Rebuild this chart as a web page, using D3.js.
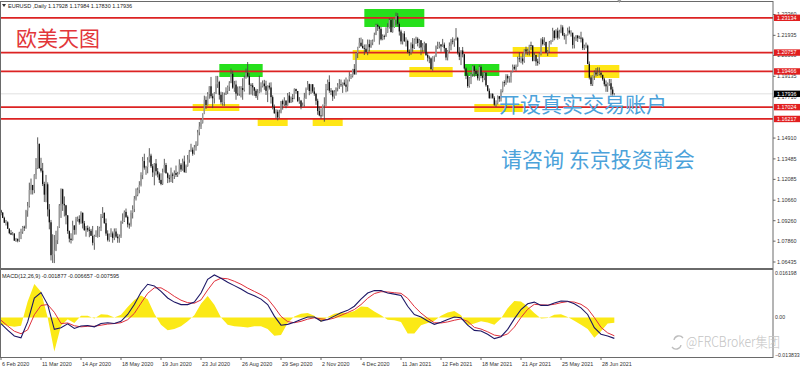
<!DOCTYPE html>
<html>
<head>
<meta charset="utf-8">
<script src="https://cdn.jsdelivr.net/npm/d3@7.9.0/dist/d3.min.js"></script>
<style>
  html, body { margin: 0; padding: 0; background: #fff; }
  svg { display: block; font-family: "Liberation Sans", Arial, sans-serif; }
</style>
</head>
<body>
<svg id="chart" width="800" height="369"></svg>
<script>
// EURUSD daily, 6 Feb 2020 .. 8 Jul 2021 (one value per trading day)
const firstOpen = 1.0997;

const highs = [
  // Feb 2020
  1.1001,1.0985,1.0953,1.0931,1.0922,1.0874,1.0862,1.0849,1.0840,1.0808,1.0805,1.0850,1.0871,1.0890,1.0892,1.1000,1.1054,
  // Mar 2020
  1.1186,1.1214,1.1171,1.1244,1.1354,1.1496,1.1454,1.1356,1.1321,1.1192,1.1239,1.1188,1.1040,1.0931,1.0833,1.0828,1.0857,1.0887,1.1040,1.1147,1.1145,1.1092,
  // Apr 2020
  1.1034,1.0965,1.0859,1.0840,1.0926,1.0895,1.0952,1.0955,1.0963,1.0990,1.0982,1.0924,1.0890,1.0893,1.0885,1.0870,1.0890,1.0830,1.0860,1.0890,1.0885,1.0972,
  // May 2020
  1.1019,1.0983,1.0941,1.0860,1.0838,1.0874,1.0852,1.0873,1.0874,1.0837,1.0832,1.0926,1.0976,1.0996,1.1009,1.0962,1.0912,1.0997,1.1031,1.1095,1.1147,
  // Jun 2020
  1.1153,1.1196,1.1257,1.1362,1.1384,1.1301,1.1360,1.1422,1.1384,1.1313,1.1320,1.1348,1.1286,1.1256,1.1250,1.1282,1.1349,1.1321,1.1256,1.1240,1.1289,1.1255,
  // Jul 2020
  1.1270,1.1303,1.1260,1.1346,1.1320,1.1350,1.1371,1.1310,1.1375,1.1410,1.1452,1.1427,1.1444,1.1469,1.1547,1.1601,1.1624,1.1660,1.1781,1.1776,1.1805,1.1845,1.1909,
  // Aug 2020
  1.1796,1.1805,1.1916,1.1916,1.1883,1.1808,1.1805,1.1802,1.1838,1.1850,1.1880,1.1966,1.1951,1.1882,1.1884,1.1844,1.1845,1.1846,1.1900,1.1917,1.1966,
  // Sep 2020
  1.2011,1.1935,1.1866,1.1867,1.1840,1.1828,1.1826,1.1917,1.1872,1.1885,1.1889,1.1883,1.1851,1.1870,1.1872,1.1783,1.1720,1.1688,1.1685,1.1685,1.1745,1.1754,
  // Oct 2020
  1.1770,1.1749,1.1799,1.1806,1.1775,1.1792,1.1831,1.1829,1.1813,1.1771,1.1752,1.1734,1.1800,1.1837,1.1881,1.1863,1.1859,1.1860,1.1838,1.1800,1.1760,1.1707,
  // Nov 2020
  1.1695,1.1720,1.1770,1.1861,1.1891,1.1920,1.1833,1.1820,1.1819,1.1838,1.1867,1.1894,1.1891,1.1870,1.1891,1.1905,1.1889,1.1942,1.1930,1.1964,1.1997,
  // Dec 2020
  1.2077,1.2115,1.2176,1.2178,1.2167,1.2131,1.2132,1.2165,1.2164,1.2162,1.2165,1.2212,1.2273,1.2272,1.2257,1.2250,1.2200,1.2198,1.2249,1.2276,1.2310,1.2310,
  // Jan 2021
  1.2309,1.2300,1.2349,1.2345,1.2283,1.2232,1.2206,1.2222,1.2180,1.2164,1.2097,1.2145,1.2175,1.2172,1.2184,1.2180,1.2169,1.2160,1.2141,1.2150,
  // Feb 2021
  1.2140,1.2076,1.2054,1.2043,1.2050,1.2055,1.2124,1.2150,1.2149,1.2132,1.2169,1.2144,1.2108,1.2093,1.2145,1.2169,1.2180,1.2170,1.2243,1.2183,
  // Mar 2021
  1.2113,1.2092,1.2114,1.2068,1.1976,1.1935,1.1908,1.1935,1.1989,1.1990,1.1965,1.1952,1.1989,1.1990,1.1941,1.1942,1.1944,1.1853,1.1830,1.1797,1.1798,1.1777,1.1749,
  // Apr 2021
  1.1782,1.1779,1.1825,1.1877,1.1886,1.1928,1.1927,1.1914,1.1946,1.1994,1.1993,1.1994,1.2048,1.2079,1.2049,1.2071,1.2098,1.2116,1.2102,1.2129,1.2150,1.2125,
  // May 2021
  1.2077,1.2061,1.2033,1.2071,1.2173,1.2182,1.2180,1.2150,1.2093,1.2155,1.2162,1.2245,1.2230,1.2235,1.2246,1.2232,1.2266,1.2262,1.2210,1.2200,1.2246,
  // Jun 2021
  1.2254,1.2228,1.2197,1.2184,1.2195,1.2196,1.2191,1.2218,1.2180,1.2130,1.2144,1.2130,1.2015,1.1920,1.1920,1.1954,1.1970,1.1975,1.1974,1.1950,1.1922,1.1904,
  // Jul 2021
  1.1885,1.1871,1.1895,1.1895,1.1842,1.17984
];

const lows = [
  1.0963,1.0944,1.0911,1.0893,1.0870,1.0834,1.0828,1.0826,1.0787,1.0781,1.0778,1.0781,1.0800,1.0836,1.0856,1.0871,1.0953,
  1.1016,1.1105,1.1105,1.1114,1.1210,1.1280,1.1282,1.1256,1.1163,1.1054,1.1052,1.0955,1.0867,1.0654,1.0637,1.0636,1.0718,1.0766,1.0877,1.0945,1.0993,1.0955,
  1.0901,1.0836,1.0778,1.0770,1.0790,1.0830,1.0831,1.0920,1.0899,1.0905,1.0873,1.0856,1.0817,1.0850,1.0813,1.0825,1.0757,1.0727,1.0815,1.0810,1.0815,1.0855,
  1.0944,1.0905,1.0823,1.0784,1.0782,1.0814,1.0775,1.0793,1.0808,1.0775,1.0775,1.0808,1.0905,1.0917,1.0944,1.0880,1.0871,1.0885,1.0941,1.0985,1.1064,
  1.1093,1.1113,1.1160,1.1210,1.1275,1.1240,1.1250,1.1324,1.1287,1.1225,1.1168,1.1235,1.1222,1.1184,1.1168,1.1170,1.1256,1.1249,1.1183,1.1187,1.1190,1.1184,
  1.1211,1.1225,1.1225,1.1244,1.1260,1.1268,1.1255,1.1252,1.1295,1.1322,1.1398,1.1370,1.1378,1.1405,1.1438,1.1510,1.1553,1.1590,1.1655,1.1690,1.1714,1.1760,1.1763,
  1.1696,1.1727,1.1792,1.1834,1.1754,1.1721,1.1712,1.1711,1.1786,1.1792,1.1813,1.1866,1.1828,1.1807,1.1753,1.1779,1.1780,1.1769,1.1753,1.1809,1.1896,
  1.1905,1.1788,1.1789,1.1782,1.1780,1.1765,1.1752,1.1798,1.1803,1.1837,1.1821,1.1786,1.1737,1.1823,1.1727,1.1687,1.1657,1.1627,1.1612,1.1626,1.1660,1.1685,
  1.1710,1.1695,1.1712,1.1730,1.1731,1.1736,1.1757,1.1794,1.1737,1.1725,1.1688,1.1702,1.1706,1.1758,1.1822,1.1784,1.1793,1.1800,1.1780,1.1718,1.1650,1.1640,
  1.1622,1.1640,1.1603,1.1710,1.1818,1.1800,1.1785,1.1745,1.1760,1.1781,1.1810,1.1827,1.1841,1.1800,1.1848,1.1804,1.1810,1.1878,1.1895,1.1905,1.1925,
  1.1925,1.2038,1.2108,1.2114,1.2103,1.2059,1.2080,1.2058,1.2082,1.2108,1.2126,1.2151,1.2195,1.2224,1.2130,1.2158,1.2160,1.2165,1.2183,1.2210,1.2240,1.2213,
  1.2211,1.2244,1.2264,1.2254,1.2192,1.2132,1.2131,1.2148,1.2117,1.2070,1.2054,1.2060,1.2081,1.2100,1.2135,1.2118,1.2106,1.2058,1.2080,1.2080,
  1.2052,1.2015,1.2003,1.1959,1.1952,1.2013,1.2045,1.2100,1.2104,1.2081,1.2115,1.2080,1.2023,1.2022,1.2078,1.2091,1.2132,1.2115,1.2158,1.2062,
  1.2024,1.1990,1.2043,1.1960,1.1894,1.1835,1.1836,1.1860,1.1910,1.1910,1.1914,1.1885,1.1883,1.1900,1.1873,1.1887,1.1842,1.1810,1.1761,1.1762,1.1760,1.1711,1.1704,
  1.1721,1.1739,1.1741,1.1803,1.1843,1.1855,1.1870,1.1870,1.1870,1.1940,1.1956,1.1951,1.1979,1.2010,1.2003,1.1994,1.2006,1.2062,1.2058,1.2056,1.2094,1.2015,
  1.2017,1.1985,1.1986,1.1996,1.2056,1.2124,1.2125,1.2072,1.2052,1.2073,1.2131,1.2150,1.2160,1.2173,1.2163,1.2171,1.2208,1.2191,1.2164,1.2133,1.2193,
  1.2200,1.2185,1.2103,1.2104,1.2154,1.2148,1.2169,1.2145,1.2093,1.2093,1.2105,1.1996,1.1892,1.1847,1.1847,1.1888,1.1912,1.1916,1.1919,1.1906,1.1883,1.1845,
  1.1807,1.1807,1.1848,1.1782,1.1781,1.17830
];

const closes = [
  1.0981,1.0945,1.0912,1.0915,1.0871,1.0841,1.0831,1.0838,1.0790,1.0800,1.0789,1.0846,1.0850,1.0884,1.0880,1.0994,1.1026,
  1.1136,1.1170,1.1135,1.1240,1.1285,1.1451,1.1285,1.1268,1.1177,1.1104,1.1175,1.1003,1.0915,1.0690,1.0695,1.0723,1.0793,1.0883,1.1030,1.1141,1.1041,1.1031,
  1.0962,1.0855,1.0803,1.0794,1.0893,1.0863,1.0938,1.0938,1.0914,1.0980,1.0908,1.0862,1.0875,1.0864,1.0857,1.0822,1.0775,1.0820,1.0822,1.0823,1.0876,1.0955,
  1.0979,1.0909,1.0838,1.0795,1.0833,1.0839,1.0808,1.0852,1.0817,1.0806,1.0819,1.0917,1.0924,1.0986,1.0952,1.0901,1.0900,1.0979,1.1006,1.1076,1.1103,
  1.1136,1.1170,1.1238,1.1334,1.1289,1.1293,1.1342,1.1371,1.1298,1.1256,1.1317,1.1264,1.1243,1.1205,1.1177,1.1258,1.1307,1.1250,1.1219,1.1218,1.1242,1.1233,
  1.1252,1.1239,1.1245,1.1309,1.1276,1.1331,1.1258,1.1300,1.1344,1.1398,1.1411,1.1384,1.1428,1.1445,1.1530,1.1570,1.1595,1.1655,1.1752,1.1718,1.1792,1.1845,1.1777,
  1.1763,1.1800,1.1859,1.1875,1.1787,1.1736,1.1737,1.1786,1.1813,1.1842,1.1869,1.1930,1.1836,1.1857,1.1795,1.1794,1.1832,1.1833,1.1820,1.1903,1.1938,
  1.1914,1.1855,1.1851,1.1838,1.1815,1.1778,1.1802,1.1814,1.1845,1.1864,1.1846,1.1814,1.1849,1.1837,1.1771,1.1705,1.1661,1.1671,1.1633,1.1665,1.1744,1.1722,
  1.1747,1.1715,1.1782,1.1734,1.1764,1.1758,1.1826,1.1813,1.1745,1.1747,1.1706,1.1718,1.1766,1.1826,1.1860,1.1813,1.1859,1.1810,1.1793,1.1746,1.1676,1.1646,
  1.1640,1.1717,1.1723,1.1825,1.1874,1.1815,1.1814,1.1775,1.1808,1.1833,1.1851,1.1858,1.1853,1.1870,1.1857,1.1842,1.1891,1.1915,1.1915,1.1963,1.1927,
  1.2072,1.2113,1.2143,1.2121,1.2106,1.2102,1.2080,1.2133,1.2112,1.2144,1.2153,1.2197,1.2264,1.2254,1.2238,1.2166,1.2188,1.2187,1.2213,1.2246,1.2298,1.2216,
  1.2247,1.2300,1.2325,1.2272,1.2220,1.2152,1.2206,1.2154,1.2155,1.2080,1.2076,1.2132,1.2106,1.2164,1.2170,1.2141,1.2160,1.2111,1.2124,1.2138,
  1.2059,1.2041,1.2036,1.1962,1.2046,1.2051,1.2118,1.2119,1.2132,1.2118,1.2130,1.2106,1.2042,1.2089,1.2120,1.2156,1.2151,1.2166,1.2175,1.2075,
  1.2047,1.2090,1.2064,1.1967,1.1917,1.1847,1.1902,1.1928,1.1982,1.1950,1.1930,1.1900,1.1978,1.1917,1.1903,1.1937,1.1852,1.1814,1.1763,1.1793,1.1766,1.1719,1.1728,
  1.1777,1.1760,1.1812,1.1874,1.1871,1.1915,1.1899,1.1910,1.1946,1.1978,1.1965,1.1983,1.2036,1.2034,1.2035,1.2016,1.2097,1.2084,1.2088,1.2126,1.2124,1.2019,
  1.2059,1.2015,1.2005,1.2067,1.2165,1.2134,1.2148,1.2076,1.2083,1.2145,1.2153,1.2224,1.2175,1.2225,1.2178,1.2215,1.2248,1.2193,1.2192,1.2193,1.2226,
  1.2212,1.2212,1.2128,1.2166,1.2191,1.2174,1.2178,1.2171,1.2106,1.2120,1.2123,1.1998,1.1905,1.1860,1.1917,1.1939,1.1926,1.1931,1.1937,1.1924,1.1893,1.1859,
  1.1845,1.1865,1.1866,1.1823,1.1793,1.17936
];

// MACD(12,26,9) read every 4th bar
const macdStep = 4;
const macdMain = [
  -0.0022,-0.0046,-0.0067,-0.0074,-0.0016,0.0071,0.0091,0.0047,-0.0043,-0.0037,
  -0.0023,-0.0040,-0.0031,-0.0029,-0.0034,-0.0022,-0.0019,-0.0022,-0.0014,0.0011,
  0.0047,0.0092,0.0121,0.0115,0.0095,0.0071,0.0056,0.0047,0.0047,0.0056,
  0.0089,0.0139,0.0155,0.0143,0.0128,0.0116,0.0104,0.0089,0.0079,0.0067,
  0.0047,0.0005,-0.0028,-0.0025,-0.0017,-0.0007,0.0002,0.0002,-0.0013,-0.0007,
  0.0005,0.0017,0.0026,0.0041,0.0067,0.0089,0.0098,0.0098,0.0089,0.0085,
  0.0080,0.0041,0.0011,0.0002,-0.0013,-0.0025,-0.0017,-0.0007,0.0002,-0.0001,
  -0.0028,-0.0047,-0.0049,-0.0061,-0.0077,-0.0070,-0.0043,-0.0005,0.0029,0.0050,
  0.0056,0.0044,0.0044,0.0053,0.0060,0.0059,0.0050,0.0035,0.0011,-0.0037,
  -0.0061,-0.0067,-0.007595
];
const macdSignal = [
  -0.0010,-0.0031,-0.0050,-0.0059,-0.0045,0.0010,0.0044,0.0047,0.0019,-0.0022,
  -0.0020,-0.0030,-0.0034,-0.0032,-0.0032,-0.0028,-0.0024,-0.0022,-0.0019,-0.0008,
  0.0015,0.0052,0.0088,0.0108,0.0108,0.0094,0.0077,0.0063,0.0054,0.0052,
  0.0064,0.0100,0.0132,0.0143,0.0141,0.0132,0.0121,0.0107,0.0095,0.0083,
  0.0068,0.0038,0.0004,-0.0015,-0.0019,-0.0014,-0.0006,-0.0001,-0.0005,-0.0008,
  -0.0002,0.0008,0.0018,0.0029,0.0047,0.0070,0.0087,0.0094,0.0093,0.0090,
  0.0088,0.0070,0.0040,0.0016,-0.0003,-0.0019,-0.0020,-0.0016,-0.0010,-0.0005,
  -0.0014,-0.0036,-0.0042,-0.0052,-0.0064,-0.0068,-0.0060,-0.0035,0.0000,0.0030,
  0.0048,0.0046,0.0045,0.0048,0.0054,0.0058,0.0056,0.0048,0.0032,0.0000,
  -0.0036,-0.0056,-0.006657
];
const macdHist = [
  -0.0024,-0.0030,-0.0034,-0.0030,0.0058,0.0122,0.0094,0.0000,-0.0124,-0.0030,
  -0.0006,-0.0020,0.0006,0.0006,-0.0004,0.0012,0.0010,0.0000,0.0010,0.0038,
  0.0064,0.0080,0.0066,0.0014,-0.0026,-0.0046,-0.0042,-0.0032,-0.0014,0.0008,
  0.0050,0.0078,0.0046,0.0000,-0.0026,-0.0032,-0.0034,-0.0036,-0.0032,-0.0032,
  -0.0042,-0.0066,-0.0064,-0.0020,0.0004,0.0014,0.0016,0.0006,-0.0016,0.0002,
  0.0014,0.0018,0.0016,0.0024,0.0040,0.0038,0.0022,0.0008,-0.0008,-0.0010,
  -0.0016,-0.0058,-0.0058,-0.0028,-0.0020,-0.0012,0.0006,0.0018,0.0024,0.0008,
  -0.0028,-0.0022,-0.0014,-0.0018,-0.0026,-0.0004,0.0034,0.0060,0.0058,0.0040,
  0.0016,-0.0004,-0.0002,0.0010,0.0012,0.0002,-0.0012,-0.0026,-0.0042,-0.0074,
  -0.0050,-0.0022,-0.001877
];

// axis labels (the 1.16310 tick sits fully under a level label in the original)
const priceTicks = [1.2336, 1.21935, 1.2056, 1.19135, 1.1771, 1.1491, 1.13485, 1.12085, 1.1066, 1.0926, 1.0786, 1.06435];
const timeLabels = ["6 Feb 2020", "11 Mar 2020", "14 Apr 2020", "18 May 2020", "19 Jun 2020", "23 Jul 2020",
  "26 Aug 2020", "29 Sep 2020", "2 Nov 2020", "4 Dec 2020", "11 Jan 2021", "12 Feb 2021",
  "18 Mar 2021", "21 Apr 2021", "25 May 2021", "28 Jun 2021"];
const barsPerLabel = 24;
const macdTicks = [0.016198, 0, -0.013833];

// drawn levels and highlight zones [fromBar, toBar, highPrice, lowPrice]
const levels = [1.23134, 1.20757, 1.19466, 1.17024, 1.16217];
const greenZones = [[131, 157, 1.19975, 1.19086], [218, 254, 1.23736, 1.22506], [278, 299, 1.19975, 1.19155]];
const yellowZones = [[115, 143, 1.1724, 1.16761], [154, 172, 1.16214, 1.15735], [187, 205, 1.16282, 1.15735],
  [211, 254, 1.20933, 1.20249], [245, 271, 1.1977, 1.19086], [284, 313, 1.1724, 1.16693],
  [307, 334, 1.21138, 1.20454], [350, 371, 1.19907, 1.19018]];

const header = "EURUSD ,Daily 1.17928 1.17984 1.17830 1.17936";
const lastPrice = 1.17936;

// layout
const W = 800, plotRight = 773;
const mainTop = 1, mainBottom = 268, macdTop = 270, macdBottom = 357;

const svg = d3.select("#chart");
const x = d3.scaleLinear().domain([0, 463.2]).range([1, plotRight]);
const y = d3.scaleLinear().domain([1.06435, 1.2336]).range([262, 14.5]);
const yM = d3.scaleLinear().domain([-0.013833, 0.016198]).range([355.5, 273]);
const fmt5 = d3.format(".5f");

svg.append("rect").attr("width", W).attr("height", 369).attr("fill", "#fff");

svg.append("clipPath").attr("id", "clipMain")
  .append("rect").attr("x", 0).attr("y", mainTop).attr("width", plotRight).attr("height", mainBottom - mainTop);
svg.append("clipPath").attr("id", "clipMacd")
  .append("rect").attr("x", 0).attr("y", macdTop).attr("width", plotRight).attr("height", macdBottom - macdTop);

const main = svg.append("g").attr("clip-path", "url(#clipMain)");

// highlight zones
const blur = svg.append("defs").append("filter").attr("id", "soft");
blur.append("feGaussianBlur").attr("stdDeviation", 0.7);

function drawZones(list, color) {
  main.append("g").attr("filter", "url(#soft)")
    .selectAll("rect").data(list).join("rect")
    .attr("x", d => x(d[0]))
    .attr("width", d => x(d[1]) - x(d[0]))
    .attr("y", d => y(d[2]))
    .attr("height", d => y(d[3]) - y(d[2]))
    .attr("fill", color);
}
drawZones(yellowZones, "#ffe617");
drawZones(greenZones, "#27e01d");

// current price line
main.append("line")
  .attr("x1", 0).attr("x2", plotRight)
  .attr("y1", y(lastPrice)).attr("y2", y(lastPrice))
  .attr("stroke", "#d8d8d8").attr("stroke-width", 0.8);

// red levels
main.selectAll("line.level").data(levels).join("line")
  .attr("class", "level")
  .attr("x1", 0).attr("x2", plotRight)
  .attr("y1", d => y(d)).attr("y2", d => y(d))
  .attr("stroke", "#dc2323").attr("stroke-width", 1.8);

// candles
const bars = closes.map((c, i) => ({
  i, c, h: highs[i], l: lows[i], o: i === 0 ? firstOpen : closes[i - 1]
}));

main.append("g").selectAll("line").data(bars).join("line")
  .attr("x1", d => x(d.i)).attr("x2", d => x(d.i))
  .attr("y1", d => y(d.h)).attr("y2", d => y(d.l))
  .attr("stroke", "#4a4a4a").attr("stroke-width", 0.9);

main.append("g").selectAll("rect").data(bars).join("rect")
  .attr("x", d => x(d.i) - 0.65)
  .attr("width", 1.3)
  .attr("y", d => y(Math.max(d.o, d.c)))
  .attr("height", d => Math.max(0.8, Math.abs(y(d.o) - y(d.c))))
  .attr("fill", d => d.c >= d.o ? "#9a9a9a" : "#111");

// MACD panel
const macd = svg.append("g").attr("clip-path", "url(#clipMacd)");
const mx = (d, k) => x(k * macdStep);

macd.append("path")
  .datum(macdHist)
  .attr("d", d3.area().x(mx).y0(yM(0)).y1(d => yM(d)))
  .attr("fill", "#fbe916");

macd.append("path")
  .datum(macdSignal)
  .attr("d", d3.line().x(mx).y(d => yM(d)))
  .attr("fill", "none").attr("stroke", "#e0303c").attr("stroke-width", 1);

macd.append("path")
  .datum(macdMain)
  .attr("d", d3.line().x(mx).y(d => yM(d)))
  .attr("fill", "none").attr("stroke", "#1d1766").attr("stroke-width", 1.1);

// frames
const frame = svg.append("g").attr("fill", "none").attr("stroke", "#6a6a6a").attr("stroke-width", 1);
frame.append("rect").attr("x", 0.5).attr("y", mainTop + 0.5).attr("width", plotRight - 0.5).attr("height", mainBottom - mainTop);
frame.append("rect").attr("x", 0.5).attr("y", macdTop - 0.5).attr("width", plotRight - 0.5).attr("height", macdBottom - macdTop + 1);

// price axis
const axisG = svg.append("g").attr("font-size", 5.4).attr("fill", "#333");
axisG.selectAll("text").data(priceTicks).join("text")
  .attr("x", plotRight + 4).attr("y", d => y(d)).attr("dy", "0.35em")
  .text(fmt5);
axisG.selectAll("line").data(priceTicks).join("line")
  .attr("x1", plotRight).attr("x2", plotRight + 2.5)
  .attr("y1", d => y(d)).attr("y2", d => y(d))
  .attr("stroke", "#666");

const lvlG = svg.append("g").attr("font-size", 5.4);
lvlG.selectAll("rect").data(levels).join("rect")
  .attr("x", plotRight + 1).attr("width", W - plotRight - 1)
  .attr("y", d => y(d) - 3.2).attr("height", 6.4)
  .attr("fill", "#e11f1f");
lvlG.selectAll("text").data(levels).join("text")
  .attr("x", plotRight + 4).attr("y", d => y(d)).attr("dy", "0.35em")
  .attr("fill", "#fff").text(fmt5);

svg.append("rect")
  .attr("x", plotRight + 1).attr("width", W - plotRight - 1)
  .attr("y", y(lastPrice) - 3.2).attr("height", 6.4).attr("fill", "#000");
svg.append("text")
  .attr("x", plotRight + 4).attr("y", y(lastPrice)).attr("dy", "0.35em")
  .attr("font-size", 5.4).attr("fill", "#fff").text(fmt5(lastPrice));

// MACD axis
svg.append("g").attr("font-size", 5.2).attr("fill", "#333")
  .selectAll("text").data(macdTicks).join("text")
  .attr("x", plotRight + 2).attr("y", d => yM(d)).attr("dy", "0.35em")
  .text(d => d === 0 ? "0.00" : d3.format(".6f")(d));

// time axis
const timeG = svg.append("g").attr("font-size", 5.4).attr("fill", "#333");
timeG.selectAll("text").data(timeLabels).join("text")
  .attr("x", (d, i) => x(i * barsPerLabel) + 1)
  .attr("y", 365.5)
  .text(d => d);
timeG.selectAll("line").data(timeLabels).join("line")
  .attr("x1", (d, i) => x(i * barsPerLabel)).attr("x2", (d, i) => x(i * barsPerLabel))
  .attr("y1", macdBottom + 0.5).attr("y2", macdBottom + 3)
  .attr("stroke", "#666");

// titles inside panels
svg.append("path")
  .attr("d", "M2,4 L6,4 L4,7 Z").attr("fill", "#333");
svg.append("text").attr("x", 8).attr("y", 8).attr("font-size", 5.5).attr("fill", "#222").text(header);
svg.append("text").attr("x", 2).attr("y", 277.5).attr("font-size", 5.5).attr("fill", "#222")
  .text("MACD(12,26,9) -0.001877 -0.006657 -0.007595");

// shift marker
const sx = x(closes.length + 2);
svg.append("path").attr("d", `M${sx - 2},0 L${sx + 2},0 L${sx},3 Z`).attr("fill", "#999");

// annotations
const cjk = '"Noto Sans CJK SC", "Noto Sans", sans-serif';
svg.append("text").attr("x", 16).attr("y", 46).attr("font-family", cjk)
  .attr("font-size", 21).attr("fill", "#e2363a").text("欧美天图");
svg.append("text").attr("x", 499).attr("y", 112).attr("font-family", cjk)
  .attr("font-size", 21).attr("fill", "#4ba2da").text("开设真实交易账户");
svg.append("text").attr("x", 501).attr("y", 167).attr("font-family", cjk)
  .attr("font-size", 21).attr("fill", "#4ba2da").text("请咨询 东京投资商会");

// watermark
const wm = svg.append("g").attr("stroke", "#bdbdbd").attr("fill", "none").attr("stroke-width", 1.3);
wm.append("path").attr("d", "M674,340 A5,5 0 0 1 683,338");
wm.append("path").attr("d", "M681,345 A5,5 0 0 1 672,347");
svg.append("text").attr("x", 686).attr("y", 347).attr("font-family", cjk)
  .attr("font-size", 14).attr("font-weight", 300).attr("fill", "#c4c4c4")
  .attr("textLength", 94).attr("lengthAdjust", "spacingAndGlyphs")
  .text("@FRCBroker集团");
</script>
</body>
</html>
